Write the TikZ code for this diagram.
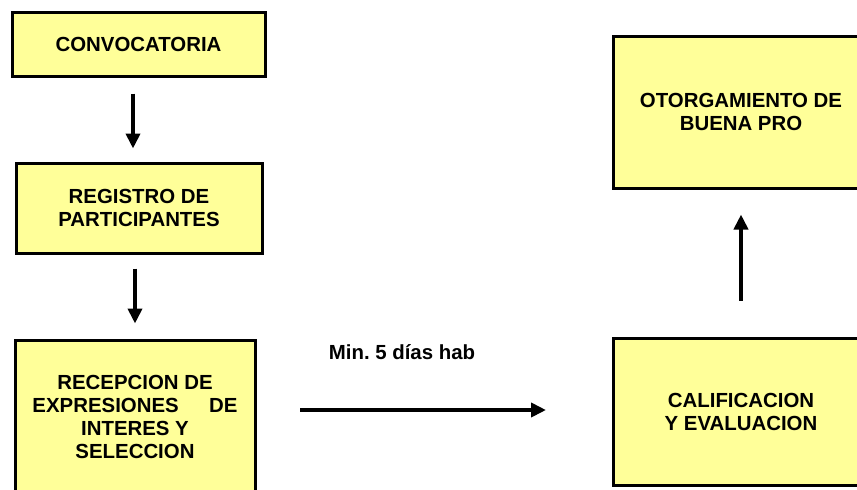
\documentclass[tikz,border=0pt]{standalone}
\usepackage{fontspec}
\setmainfont{Liberation Sans}
\usetikzlibrary{arrows.meta}

\definecolor{amarillo}{RGB}{255,255,153}

\begin{document}
\begin{tikzpicture}[x = 0.5pt, y = -0.5pt,
	etapa/.style = {draw, line width = 1.5pt, fill = amarillo, align = center, inner sep = 0pt,
		font = \bfseries\fontsize{10.2}{11.5}\selectfont},
	flecha/.style = {line width = 2pt, -{Triangle[length = 7.5pt, width = 7pt]}}]
	\useasboundingbox (0,0) rectangle (857,489);
	
	% etapas
	\node[etapa, minimum width = 126.5pt, minimum height = 32pt] (conv) at (138.5,44) {CONVOCATORIA};
	\node[etapa, minimum width = 123pt, minimum height = 45pt] (registro) at (139,208) {REGISTRO DE\\PARTICIPANTES};
	\node[etapa, minimum width = 120pt, minimum height = 77pt] (recepcion) at (135,417)
		{RECEPCION DE\\\makebox[102.5pt]{EXPRESIONES\hfill DE}\\INTERES Y\\SELECCION};
	\node[etapa, minimum width = 128pt, minimum height = 76pt] (otorga) at (741,112) {OTORGAMIENTO DE\\BUENA PRO};
	\node[etapa, minimum width = 128pt, minimum height = 73.5pt] (calif) at (741,411.5) {CALIFICACION\\Y EVALUACION};
	
	% plazo
	\node[font = \bfseries\fontsize{10.2}{11.5}\selectfont] (dias) at (402,352) {Min.\ 5 días hab};
	\coordinate (ini) at (300,410);
	\coordinate (fin) at (546,410);
	
	% flechas
	\draw[flecha, shorten <= 8pt, shorten >= 6.5pt] ([xshift = -2.75pt]conv.south) -- ([xshift = -2.75pt]conv.south |- registro.north);
	\draw[flecha, shorten <= 7pt, shorten >= 7.5pt] ([xshift = -2pt]registro.south) -- ([xshift = -2pt]registro.south |- recepcion.north);
	\draw[flecha] (ini) -- (fin);
	\draw[flecha, shorten <= 18pt, shorten >= 12.5pt] (calif) -- (otorga);
	
\end{tikzpicture}
\end{document}
